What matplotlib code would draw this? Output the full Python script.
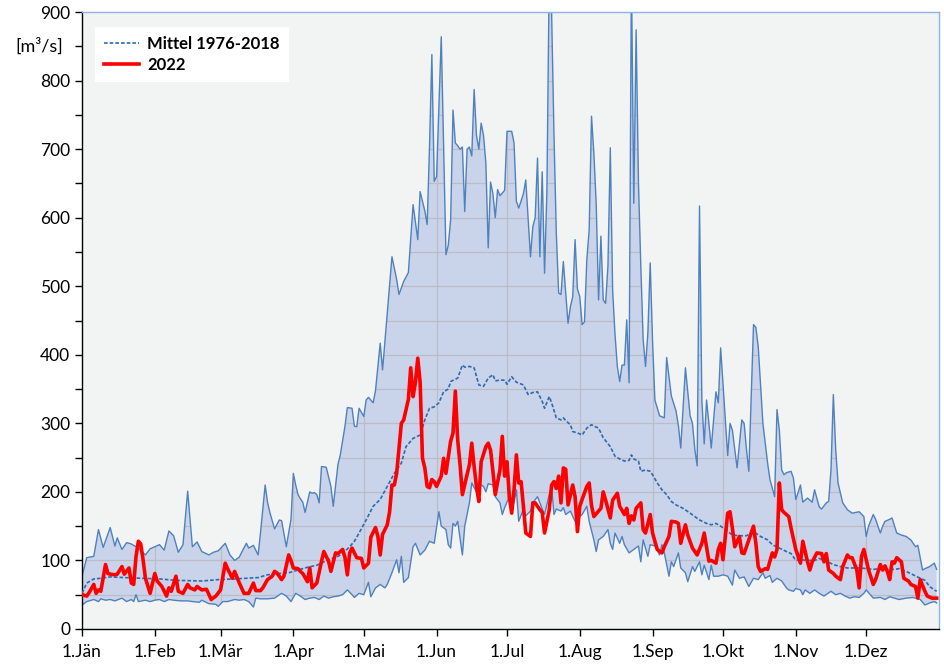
import matplotlib
matplotlib.use("Agg")
import matplotlib.pyplot as plt
import numpy as np
from matplotlib.ticker import MultipleLocator

plt.rcParams['font.family'] = ['Lato', 'DejaVu Sans']

# month ticks (day of year, 0 = 1 Jan)
month_days = [0, 31, 59, 90, 120, 151, 181, 212, 243, 273, 304, 334]
month_labels = ['1.Jän', '1.Feb', '1.Mär', '1.Apr', '1.Mai', '1.Jun',
                '1.Jul', '1.Aug', '1.Sep', '1.Okt', '1.Nov', '1.Dez']

# daily maximum 1976-2018 (day, m3/s)
q_max = [(0, 77), (2, 104), (5, 106), (7, 145), (9, 119), (12, 148), (14, 121), (15, 133),
         (17, 116), (19, 126), (21, 124), (24, 118), (27, 108), (29, 117), (31, 120), (33, 123),
         (35, 115), (37, 143), (39, 136), (41, 112), (43, 123), (45, 201), (47, 120), (49, 127),
         (51, 113), (54, 108), (56, 112), (58, 114), (61, 125), (63, 108), (65, 100), (67, 105),
         (68, 112), (70, 125), (71, 118), (73, 122), (75, 108), (76, 140), (78, 210), (79, 185),
         (80, 170), (82, 146), (84, 159), (85, 158), (87, 120), (89, 160), (90, 227), (91, 210),
         (92, 196), (93, 190), (94, 185), (95, 170), (96, 185), (97, 200), (98, 198), (99, 199),
         (100, 196), (101, 184), (102, 237), (104, 236), (106, 208), (107, 179), (109, 240),
         (110, 254), (112, 296), (113, 323), (115, 322), (116, 296), (117, 295), (118, 322),
         (120, 310), (121, 334), (122, 338), (124, 330), (125, 348), (127, 417), (128, 378),
         (130, 461), (132, 543), (134, 510), (135, 488), (137, 507), (139, 520), (141, 619),
         (143, 568), (144, 638), (146, 610), (147, 590), (148, 704), (149, 838), (150, 653),
         (151, 660), (153, 864), (155, 546), (156, 560), (157, 597), (158, 757), (159, 709),
         (160, 705), (161, 700), (162, 703), (163, 609), (164, 700), (165, 703), (166, 690),
         (167, 787), (168, 720), (169, 700), (170, 738), (171, 720), (172, 680), (173, 556),
         (174, 652), (175, 635), (176, 600), (177, 641), (178, 632), (180, 640), (181, 726),
         (183, 726), (184, 709), (185, 624), (186, 614), (188, 635), (189, 655), (190, 600),
         (191, 543), (192, 587), (193, 600), (194, 687), (195, 543), (196, 667), (197, 519),
         (198, 640), (199, 960), (200, 900), (201, 723), (202, 578), (203, 490), (204, 488),
         (205, 536), (206, 490), (207, 446), (208, 470), (209, 485), (210, 568), (211, 496),
         (212, 485), (213, 444), (214, 448), (215, 539), (216, 582), (217, 748), (218, 694),
         (219, 620), (220, 480), (221, 573), (222, 480), (223, 475), (224, 530), (225, 702),
         (226, 494), (227, 430), (228, 383), (229, 361), (230, 385), (231, 385), (232, 451),
         (233, 359), (234, 960), (235, 621), (236, 874), (237, 650), (238, 529), (239, 422),
         (240, 383), (241, 432), (242, 534), (243, 420), (244, 334), (246, 311), (248, 308),
         (249, 396), (251, 340), (253, 318), (254, 297), (255, 264), (257, 381), (259, 311),
         (260, 300), (261, 262), (262, 238), (263, 617), (264, 334), (265, 270), (266, 334),
         (267, 300), (268, 264), (270, 346), (271, 330), (272, 410), (274, 305), (275, 253),
         (276, 300), (277, 290), (279, 235), (281, 305), (282, 300), (283, 262), (284, 230),
         (286, 444), (287, 440), (288, 412), (290, 300), (292, 242), (293, 218), (295, 193),
         (296, 320), (297, 290), (298, 232), (299, 225), (300, 228), (302, 230), (303, 220),
         (304, 189), (306, 210), (307, 185), (309, 191), (311, 185), (312, 203), (314, 178),
         (315, 175), (317, 184), (318, 186), (319, 232), (320, 342), (321, 262), (322, 213),
         (324, 184), (326, 174), (328, 169), (331, 171), (333, 164), (334, 135), (335, 150),
         (337, 167), (338, 160), (340, 140), (341, 150), (342, 157), (344, 160), (345, 162),
         (347, 140), (349, 137), (351, 135), (353, 130), (355, 120), (356, 122), (358, 86),
         (359, 88), (361, 91), (363, 96), (364, 87)]

# daily minimum 1976-2018
q_min = [(0, 35), (2, 40), (5, 43), (7, 40), (8, 44), (10, 42), (12, 43), (14, 41), (17, 45),
         (19, 40), (21, 43), (22, 40), (23, 50), (24, 40), (27, 42), (29, 40), (31, 42), (33, 43),
         (35, 40), (37, 43), (39, 42), (42, 41), (45, 41), (47, 40), (50, 39), (51, 42), (54, 37),
         (57, 36), (58, 33), (60, 40), (62, 40), (65, 43), (67, 42), (69, 43), (71, 40), (73, 32),
         (74, 45), (76, 44), (79, 44), (82, 45), (85, 52), (87, 48), (89, 40), (91, 52), (93, 48),
         (95, 43), (97, 45), (99, 46), (101, 43), (103, 48), (105, 45), (107, 47), (109, 48),
         (111, 50), (113, 57), (115, 50), (116, 46), (118, 52), (120, 50), (122, 68), (123, 47),
         (125, 60), (127, 65), (129, 60), (130, 65), (132, 82), (134, 101), (135, 82), (136, 106),
         (137, 68), (139, 75), (141, 120), (142, 125), (144, 108), (146, 115), (148, 128),
         (150, 125), (152, 171), (153, 150), (155, 145), (156, 123), (157, 118), (158, 154),
         (159, 150), (160, 157), (162, 108), (163, 150), (165, 184), (166, 213), (168, 200),
         (169, 205), (170, 210), (171, 208), (172, 200), (173, 212), (175, 210), (176, 193),
         (178, 184), (179, 167), (180, 177), (182, 193), (184, 184), (185, 203), (186, 157),
         (188, 175), (189, 165), (191, 172), (192, 184), (194, 193), (196, 175), (197, 167),
         (199, 196), (200, 208), (201, 167), (202, 175), (204, 172), (205, 177), (206, 167),
         (208, 172), (210, 157), (211, 162), (213, 167), (215, 179), (216, 157), (218, 130),
         (219, 113), (220, 130), (222, 135), (224, 145), (225, 125), (226, 116), (227, 140),
         (229, 125), (230, 135), (231, 123), (233, 111), (235, 116), (237, 121), (238, 98),
         (239, 130), (241, 106), (242, 123), (244, 121), (246, 108), (247, 123), (248, 111),
         (250, 77), (251, 98), (252, 91), (254, 111), (255, 89), (257, 82), (258, 69), (260, 91),
         (261, 84), (263, 98), (264, 79), (265, 93), (267, 72), (268, 93), (269, 77), (271, 77),
         (273, 79), (275, 77), (277, 64), (278, 86), (280, 74), (282, 76), (284, 62), (286, 74),
         (288, 72), (290, 82), (291, 74), (293, 78), (294, 68), (296, 74), (298, 70), (300, 60),
         (301, 57), (303, 55), (304, 59), (306, 57), (307, 50), (308, 57), (310, 52), (312, 57),
         (314, 52), (316, 48), (319, 55), (321, 50), (323, 52), (325, 48), (327, 45), (329, 47),
         (331, 46), (333, 52), (334, 57), (337, 45), (340, 46), (342, 43), (344, 47), (346, 45),
         (348, 43), (351, 45), (354, 46), (357, 43), (359, 35), (361, 38), (363, 40), (364, 38)]

# mean 1976-2018
q_mean = [(0, 52), (2, 67), (5, 73), (8, 74), (12, 76), (18, 75), (25, 74), (33, 73), (40, 71),
          (51, 70), (58, 72), (65, 73), (70, 74), (75, 75), (79, 79), (84, 81), (88, 82), (92, 86),
          (96, 90), (100, 93), (105, 101), (109, 106), (111, 110), (114, 120), (116, 128),
          (118, 140), (121, 159), (124, 179), (127, 189), (130, 208), (133, 227), (136, 242),
          (138, 266), (141, 278), (144, 283), (146, 305), (148, 322), (150, 324), (152, 330),
          (154, 346), (156, 350), (157, 361), (160, 366), (162, 385), (163, 382), (165, 383),
          (167, 381), (169, 356), (171, 354), (173, 366), (175, 371), (176, 362), (178, 363),
          (180, 363), (181, 357), (183, 368), (185, 360), (188, 356), (190, 342), (192, 345),
          (194, 346), (196, 332), (197, 322), (199, 339), (200, 330), (202, 308), (204, 305),
          (205, 308), (206, 304), (208, 298), (209, 288), (211, 286), (213, 283), (215, 293),
          (217, 298), (218, 296), (220, 293), (222, 279), (225, 266), (227, 252), (229, 248),
          (231, 245), (233, 246), (234, 254), (235, 248), (237, 245), (238, 230), (240, 232),
          (242, 230), (243, 225), (245, 213), (247, 203), (249, 196), (251, 186), (253, 181),
          (256, 176), (259, 169), (261, 164), (263, 159), (266, 154), (268, 152), (270, 154),
          (272, 150), (274, 145), (277, 137), (280, 136), (283, 136), (286, 142), (289, 135),
          (292, 130), (294, 123), (297, 118), (300, 113), (302, 110), (304, 100), (306, 101),
          (309, 100), (312, 100), (314, 103), (317, 99), (320, 94), (323, 91), (326, 89),
          (329, 89), (332, 89), (334, 88), (337, 87), (340, 88), (343, 87), (346, 87), (348, 88),
          (351, 84), (354, 79), (357, 74), (359, 71), (361, 62), (363, 57), (364, 55)]

# year 2022
q_2022 = [(0, 50), (2, 48), (3, 53), (5, 65), (6, 52), (7, 57), (8, 55), (10, 94), (11, 81),
          (12, 80), (14, 79), (15, 80), (17, 91), (18, 80), (20, 89), (21, 67), (22, 65),
          (23, 106), (24, 128), (25, 124), (26, 101), (27, 74), (29, 52), (31, 81), (32, 70),
          (34, 62), (36, 48), (37, 60), (38, 55), (40, 77), (41, 55), (43, 52), (45, 65), (46, 60),
          (48, 57), (49, 62), (51, 57), (53, 58), (55, 43), (57, 48), (59, 57), (61, 96), (62, 88),
          (64, 74), (65, 84), (67, 67), (69, 52), (71, 52), (73, 67), (74, 56), (76, 56), (77, 60),
          (79, 72), (81, 77), (82, 84), (83, 82), (85, 72), (86, 77), (88, 108), (89, 100),
          (90, 89), (92, 88), (93, 84), (94, 81), (96, 69), (97, 89), (98, 60), (100, 67),
          (102, 99), (103, 113), (105, 99), (106, 84), (108, 111), (109, 110), (111, 116),
          (112, 104), (113, 79), (114, 111), (115, 118), (117, 104), (119, 103), (120, 89),
          (122, 96), (123, 134), (125, 148), (126, 135), (127, 108), (128, 138), (130, 152),
          (131, 171), (132, 210), (133, 210), (134, 227), (136, 300), (137, 305), (139, 335),
          (140, 381), (141, 339), (142, 360), (143, 395), (144, 360), (145, 249), (146, 235),
          (147, 208), (148, 206), (149, 218), (150, 215), (151, 208), (153, 223), (154, 249),
          (155, 227), (157, 274), (158, 286), (159, 347), (160, 276), (161, 240), (162, 196),
          (164, 225), (165, 240), (166, 271), (167, 237), (168, 208), (169, 186), (170, 244),
          (172, 266), (173, 271), (174, 261), (175, 230), (176, 196), (178, 232), (179, 281),
          (180, 223), (181, 244), (182, 193), (183, 169), (184, 203), (185, 254), (186, 213),
          (187, 215), (188, 179), (189, 140), (191, 135), (192, 184), (193, 184), (195, 174),
          (196, 170), (197, 140), (199, 174), (200, 210), (201, 215), (202, 205), (203, 223),
          (204, 184), (205, 235), (206, 233), (207, 181), (209, 210), (210, 193), (211, 142),
          (212, 179), (213, 189), (215, 208), (216, 213), (217, 180), (218, 164), (219, 168),
          (221, 176), (222, 200), (223, 188), (225, 162), (226, 188), (228, 198), (229, 179),
          (231, 167), (232, 176), (233, 154), (234, 165), (235, 159), (236, 176), (238, 184),
          (239, 145), (240, 140), (242, 167), (243, 140), (244, 128), (245, 116), (247, 111),
          (248, 120), (250, 135), (251, 157), (253, 156), (254, 154), (255, 125), (257, 152),
          (258, 137), (260, 118), (262, 108), (264, 125), (265, 140), (267, 99), (268, 100),
          (270, 96), (271, 116), (272, 125), (273, 101), (275, 169), (276, 171), (277, 147),
          (278, 120), (280, 135), (281, 111), (282, 110), (284, 130), (286, 150), (287, 125),
          (288, 91), (289, 84), (291, 88), (292, 87), (294, 111), (295, 105), (296, 116),
          (297, 213), (298, 174), (299, 170), (301, 164), (302, 147), (304, 116), (306, 96),
          (307, 128), (309, 98), (310, 86), (311, 98), (313, 111), (315, 110), (316, 98),
          (317, 110), (318, 86), (320, 81), (321, 77), (323, 72), (324, 91), (326, 108),
          (327, 104), (328, 104), (330, 86), (331, 60), (332, 106), (333, 116), (335, 86),
          (337, 65), (338, 72), (340, 94), (341, 86), (342, 92), (343, 84), (344, 72), (345, 98),
          (346, 96), (347, 104), (349, 98), (350, 74), (352, 70), (353, 65), (355, 62), (356, 45),
          (357, 72), (359, 55), (360, 48), (362, 45), (364, 45)]


def split(pairs):
    d = np.array([p[0] for p in pairs], dtype=float)
    v = np.array([p[1] for p in pairs], dtype=float)
    return d, v


def main():
    max_d, max_v = split(q_max)
    min_d, min_v = split(q_min)
    mean_d, mean_v = split(q_mean)
    d22, v22 = split(q_2022)

    fig = plt.figure(figsize=(9.44, 6.68), dpi=100)
    ax = fig.add_axes([0.0869, 0.0584, 0.9078, 0.9236])
    ax.set_facecolor('#f2f3f3')

    # band between min and max
    band = ax.fill(np.concatenate([max_d, min_d[::-1]]), np.concatenate([max_v, min_v[::-1]]),
                   facecolor='#c9d3ea', edgecolor='none', zorder=1)[0]

    # grid only shows inside the band
    for v in range(50, 900, 50):
        gl = ax.axhline(v, color='#bcbcc4', lw=0.9, zorder=1.5)
        gl.set_clip_path(band)
    for d in month_days[1:]:
        gl = ax.axvline(d, color='#bcbcc4', lw=0.9, zorder=1.5)
        gl.set_clip_path(band)

    ax.plot(max_d, max_v, color='#4f81bd', lw=1.0, zorder=2)
    ax.plot(min_d, min_v, color='#4f81bd', lw=1.0, zorder=2)
    ax.plot(mean_d, mean_v, color='#2e6bb0', lw=1.2, ls=(0, (2.2, 1.2)), zorder=3,
            label='Mittel 1976-2018')
    ax.plot(d22, v22, color='#ff0000', lw=2.6, zorder=4, label='2022')

    ax.set_xlim(0, 365)
    ax.set_ylim(0, 900)
    ax.set_xticks(month_days)
    ax.set_xticklabels(month_labels)
    ax.yaxis.set_major_locator(MultipleLocator(100))
    ax.yaxis.set_minor_locator(MultipleLocator(50))
    ax.tick_params(axis='both', labelsize=12.5, direction='out', length=5, width=1,
                   colors='black')
    ax.tick_params(axis='y', which='minor', length=5, width=1)
    ax.tick_params(axis='x', pad=6)

    for s in ['left', 'bottom']:
        ax.spines[s].set_color('black')
        ax.spines[s].set_linewidth(1.0)
    for s in ['top', 'right']:
        ax.spines[s].set_color('#8eb4e3')
        ax.spines[s].set_linewidth(1.0)

    fig.text(0.042, 0.931, '[m³/s]', fontsize=13, ha='center', va='center')

    leg = ax.legend(loc='upper left', bbox_to_anchor=(0.005, 0.99), frameon=True,
                    fancybox=False, edgecolor='none', facecolor='white', framealpha=1,
                    prop={'weight': 'bold', 'size': 12}, handlelength=2.1,
                    handletextpad=0.5, borderpad=0.55, labelspacing=0.3)
    leg.get_frame().set_linewidth(0)

    fig.savefig('out.png', dpi=100)


if __name__ == "__main__":
    main()
